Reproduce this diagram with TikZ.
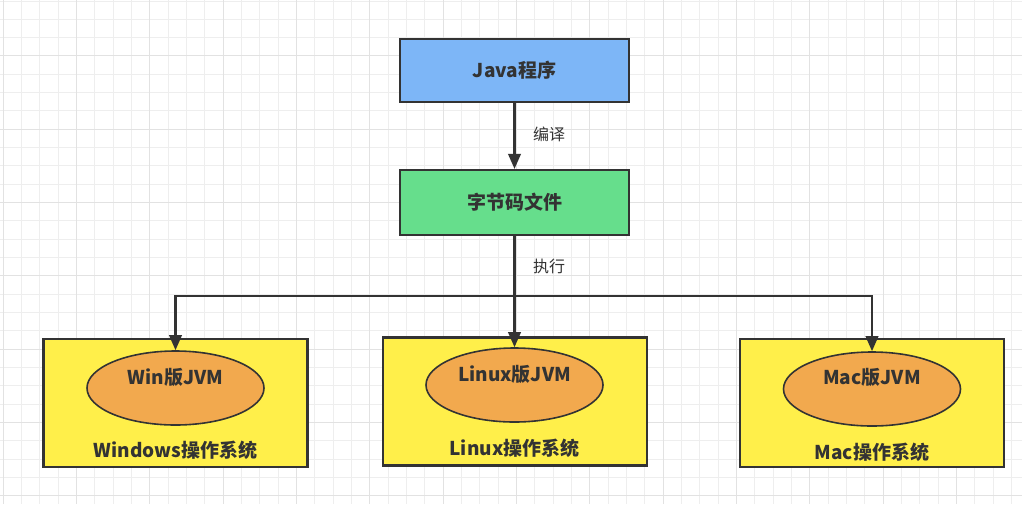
\documentclass[tikz,border=0pt]{standalone}
\usepackage{fontspec}
\usetikzlibrary{shapes.geometric,arrows.meta}
\newfontfamily\cjk{Noto Sans CJK SC}
\definecolor{bluebox}{HTML}{7DB6F7}
\definecolor{greenbox}{HTML}{66DE8C}
\definecolor{yellowbox}{HTML}{FFEF4A}
\definecolor{orangeell}{HTML}{F2A94E}
\definecolor{edge}{HTML}{333333}
\definecolor{gridminor}{HTML}{EEEEEE}
\definecolor{gridmajor}{HTML}{E2E2E2}
\tikzset{
  box/.style={draw=edge, line width=2.2pt, minimum width=229pt, inner sep=0pt, font=\cjk\bfseries\fontsize{19}{22}\selectfont, text=edge},
  osbox/.style={draw=edge, line width=2.2pt, fill=yellowbox, minimum width=264pt, minimum height=128pt, inner sep=0pt},
  jvm/.style={ellipse, draw=edge, line width=1.6pt, fill=orangeell, minimum width=177pt, minimum height=74pt, inner sep=0pt},
  txt/.style={font=\cjk\bfseries\fontsize{19}{22}\selectfont, text=edge, inner sep=0pt},
  lbl/.style={font=\cjk\fontsize{16}{18}\selectfont, text=edge, inner sep=0pt},
  arr/.style={draw=edge, line width=2.2pt, -{Triangle[length=15pt,width=12.5pt]}},
  conn/.style={draw=edge, line width=2.2pt}
}
\begin{document}
\begin{tikzpicture}[x=1pt,y=-1pt]
\useasboundingbox (0,0) rectangle (1022,504);
\fill[white] (0,0) rectangle (1022,504);
% grid
\foreach \i in {0,...,55} {\draw[gridminor, line width=1pt] ({3.3+\i*18.33},0) -- ({3.3+\i*18.33},504);}
\foreach \j in {0,...,27} {\draw[gridminor, line width=1pt] (0,{1+\j*18.33}) -- (1022,{1+\j*18.33});}
\foreach \i in {0,4,...,52} {\draw[gridmajor, line width=1pt] ({3.3+\i*18.33},0) -- ({3.3+\i*18.33},504);}
\foreach \j in {3,7,...,27} {\draw[gridmajor, line width=1pt] (0,{1+\j*18.33}) -- (1022,{1+\j*18.33});}

% top boxes
\node[box, fill=bluebox, minimum height=63pt] (java) at (514.5,70.5) {Java程序};
\node[box, fill=greenbox, minimum height=65pt] (byte) at (514.5,202.5) {字节码文件};

% OS boxes
\node[osbox] (win) at (175.5,403) {};
\node[osbox] (lin) at (515,401.5) {};
\node[osbox] (mac) at (872,403) {};

% JVM ellipses
\node[jvm] (winE) at (175.5,388) {};
\node[jvm] (linE) at (514.5,385) {};
\node[jvm] (macE) at (872,389) {};

\node[txt] (winJ) at (175.5,377) {Win版JVM};
\node[txt] (linJ) at (514.5,374) {Linux版JVM};
\node[txt] (macJ) at (872,377) {Mac版JVM};

\node[txt] (winT) at (175.5,450) {Windows操作系统};
\node[txt] (linT) at (514.5,448) {Linux操作系统};
\node[txt] (macT) at (872,452) {Mac操作系统};

% connectors
\draw[arr] (java.south) -- (byte.north);
\node[lbl] (l1) at (549,134) {编译};
\coordinate (sp) at (514.5,296);
\draw[conn] (byte.south) -- (sp);
\draw[arr] (sp) -| (winE.north);
\draw[arr] (sp) -| (macE.north);
\draw[arr] (sp) -- (linE.north);
\node[lbl] (l2) at (549,266) {执行};
\end{tikzpicture}
\end{document}
